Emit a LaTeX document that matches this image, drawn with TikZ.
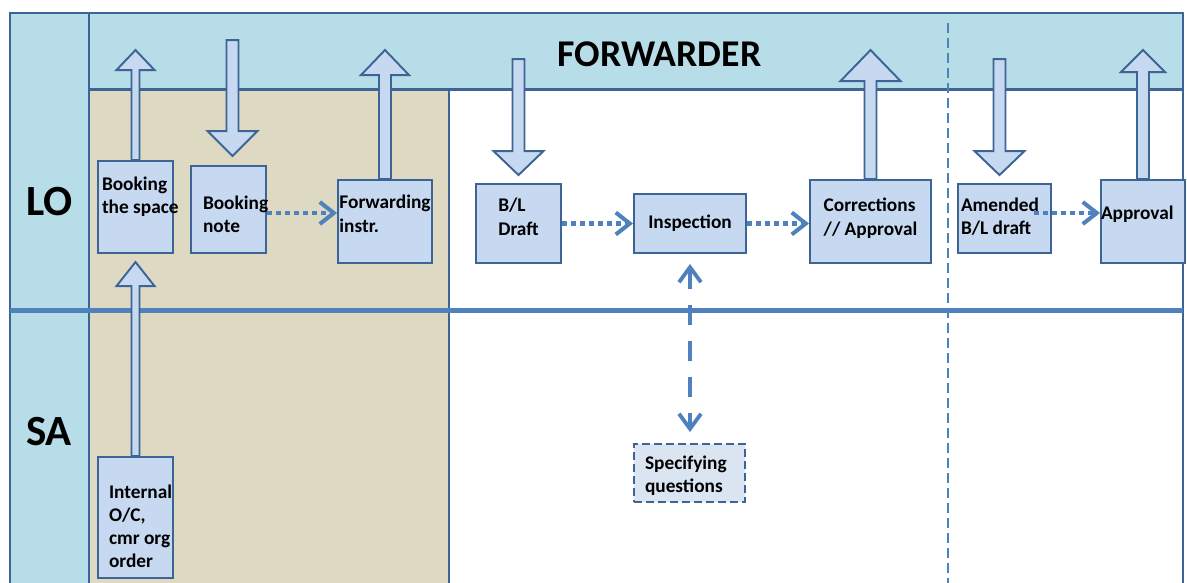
\documentclass[tikz,border=0pt]{standalone}
\usepackage{fontspec}
\setmainfont{Carlito}
\usetikzlibrary{arrows.meta}
\definecolor{bandblue}{HTML}{B7DDE8}
\definecolor{tanbg}{HTML}{DDD9C3}
\definecolor{boxfill}{HTML}{C6D9F1}
\definecolor{qfill}{HTML}{DBE5F1}
\definecolor{edge}{HTML}{3C6494}
\definecolor{accent}{HTML}{4F81BD}
\newcommand{\blkarr}[5]{\draw[blk] #1 ++(-#3,0) -- ++(0,#2) -- ++({#3-#4},0) -- ++(#4,#5) -- ++(#4,{-1*(#5)}) -- ++({#3-#4},0) -- ++(0,{-1*(#2)}) -- cycle;}
\begin{document}
\begin{tikzpicture}[x=0.2mm,y=-0.2mm,
  box/.style={draw=edge,fill=boxfill,line width=1.1pt,inner sep=0pt,align=left,font={\fontsize{11}{13.2}\selectfont\bfseries}},
  qbox/.style={box,fill=qfill,dash pattern=on 1.6mm off 0.8mm},
  down/.style={text height=#1,text depth=0pt},
  pad/.style n args={3}{align=flush left,text width=#1,inner xsep=#2,text height=0pt,text depth=#3},
  blk/.style={draw=edge,fill=boxfill,line width=1.1pt},
  flow/.style={accent,line width=2.3pt,dash pattern=on 1mm off 0.8mm,-{Straight Barb[length=2.8mm,width=4.4mm]}},
  ask/.style={accent,line width=2.2pt,dash pattern=on 4mm off 3.2mm,{Straight Barb[length=3mm,width=4.4mm]}-{Straight Barb[length=3mm,width=4.4mm]}},
  lanename/.style={font={\fontsize{24.5}{29}\selectfont\bfseries}}]
\useasboundingbox (0,0) rectangle (1187,582);
\fill[bandblue] (10,13) rectangle (1183,89.5);
\fill[bandblue] (10,13) rectangle (89,585);
\fill[tanbg] (89,89.5) rectangle (449,585);
\draw[edge,line width=1.3pt] (10,585) -- (10,13) -- (1183,13) -- (1183,585);
\draw[edge,line width=1.3pt] (89,13) -- (89,585);
\draw[edge,line width=1.3pt] (89,89.5) -- (1183,89.5);
\draw[edge,line width=1.3pt] (449,89.5) -- (449,585);
\draw[accent,line width=2.6pt] (10,310.5) -- (1183,310.5);
\draw[accent,line width=1.5pt,dash pattern=on 2mm off 1mm] (948,23) -- (948,585);

\node[lanename] (lo) at (49.5,202) {LO};
\node[lanename] (sa) at (49,432) {SA};
\node[font={\fontsize{21.5}{26}\selectfont\bfseries}] (fwdr) at (659.5,54.5) {FORWARDER};

\node[box,pad={13.4mm}{0.8mm}{6.8mm},minimum height=18.4mm] (space) at (135.5,207) {Booking\\\mbox{the space}};
\node[box,pad={10.2mm}{2.4mm}{0.2mm},minimum height=17.4mm] (note) at (228.5,209.5) {Booking\\note};
\node[box,down=4.2mm,minimum width=18.8mm,minimum height=16.6mm] (fwd) at (385,221.5) {Forwarding\\instr.};
\node[box,down=4.6mm,minimum width=17mm,minimum height=15.8mm] (draft) at (518.5,223.5) {B/L\\Draft};
\node[box,minimum width=22.4mm,minimum height=11.8mm] (insp) at (690,223.5) {Inspection};
\node[box,down=5.4mm,minimum width=24.2mm,minimum height=16.6mm] (corr) at (870.5,221.5) {Corrections\\// Approval};
\node[box,pad={17.4mm}{0.6mm}{3mm},minimum height=13.8mm] (amend) at (1004.5,218.5) {Amended\\\mbox{B/L draft}};
\node[box,pad={16.8mm}{0pt}{1mm},minimum height=16.6mm] (appr) at (1143,221.5) {Approval};
\node[box,pad={10.6mm}{2.2mm}{7.8mm},minimum height=24.2mm] (int) at (135.5,517.5) {Internal\\O/C,\\\mbox{cmr org}\\order};
\node[qbox,pad={17.8mm}{2.2mm}{1.6mm},minimum height=11.6mm] (spec) at (689.5,473) {Specifying\\questions};

\blkarr{(space.north)}{-90}{4}{19}{-20}
\blkarr{(note.north) ++(4,-125)}{91}{6}{25}{25}
\blkarr{(fwd.north)}{-104}{6}{24}{-25}
\blkarr{(draft.north) ++(0,-124)}{92}{6}{25}{24}
\blkarr{(corr.north)}{-98}{6}{30}{-31}
\blkarr{(amend.north) ++(-5,-124)}{92}{6}{25}{24}
\blkarr{(appr.north)}{-107}{6}{22}{-22}
\blkarr{(int.north)}{-170}{4}{19}{-24}

\draw[flow] ([yshift=-0.7mm]note.east) -- ([yshift=-0.7mm]note.east -| fwd.west);
\draw[flow] (draft.east) -- (insp.west);
\draw[flow] (insp.east) -- (insp.east -| corr.west);
\draw[flow] ([xshift=-3.6mm,yshift=1.1mm]amend.east) -- ([yshift=1.1mm]amend.east -| appr.west);
\draw[ask] ([yshift=-2mm]insp.south) -- ([yshift=2.2mm]insp.south |- spec.north);
\end{tikzpicture}
\end{document}
